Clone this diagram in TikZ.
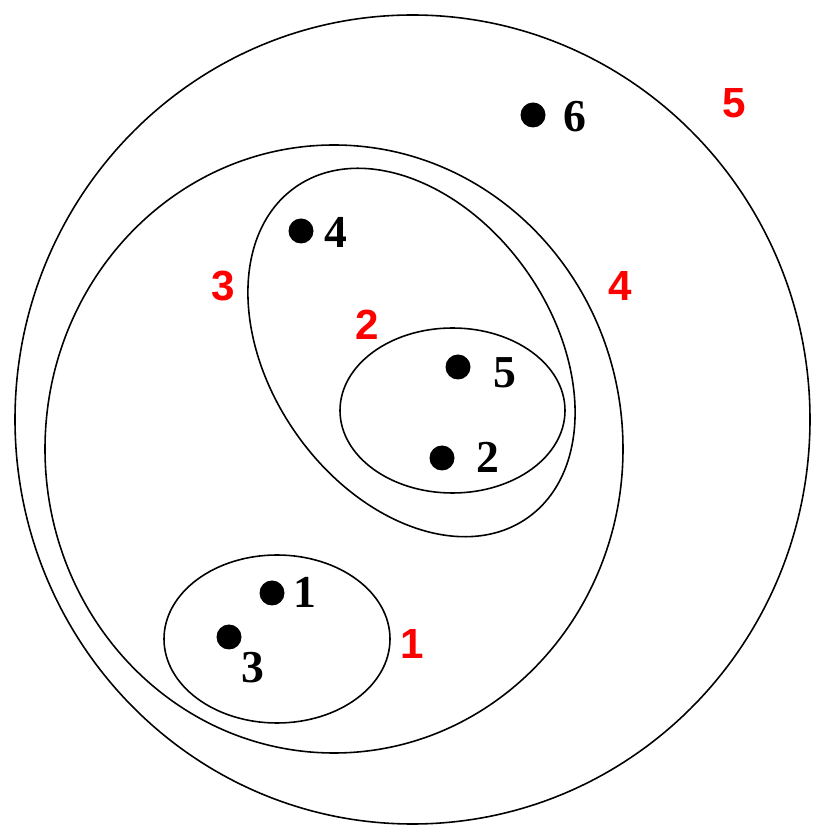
\documentclass[tikz,border=0pt]{standalone}
\usepackage{fontspec}
\usepackage{tikz}
\usetikzlibrary{shapes,positioning}
\newfontfamily\numfont{Liberation Serif}
\newfontfamily\setfont{Liberation Sans}

\tikzset{
  dot/.style={circle,fill=black,inner sep=0pt,minimum size=0.25cm},
  num/.style={font=\numfont\bfseries\fontsize{13}{15}\selectfont,inner sep=0pt},
  setnum/.style={font=\setfont\bfseries\fontsize{12}{14}\selectfont,text=red,inner sep=0pt},
  ring/.style={draw=black,line width=0.45pt}
}

\begin{document}
\begin{tikzpicture}
\useasboundingbox (0,0) rectangle (8.23,8.31);
% nested sets
\draw[ring] (4.125,4.115) ellipse (3.975 and 4.045);
\draw[ring] (3.34,3.82) ellipse (2.89 and 3.04);
\draw[ring,rotate around={-55:(4.115,4.785)}] (4.115,4.785) ellipse (2.02 and 1.41);
\draw[ring] (4.525,4.205) ellipse (1.125 and 0.825);
\draw[ring] (2.77,1.92) ellipse (1.13 and 0.84);

% points
\node[dot] (p6) at (5.33,7.16) {};
\node[dot] (p4) at (3.01,6.00) {};
\node[dot] (p5) at (4.58,4.64) {};
\node[dot] (p2) at (4.42,3.73) {};
\node[dot] (p1) at (2.72,2.38) {};
\node[dot] (p3) at (2.29,1.94) {};
\node[num] (n6) at (5.75,7.14) {6};
\node[num] (n4) at (3.36,5.99) {4};
\node[num] (n5) at (5.05,4.58) {5};
\node[num] (n2) at (4.88,3.74) {2};
\node[num] (n1) at (3.05,2.39) {1};
\node[num] (n3) at (2.53,1.63) {3};

% set labels
\node[setnum] (s5) at (7.34,7.28) {5};
\node[setnum] (s4) at (6.20,5.45) {4};
\node[setnum] (s3) at (2.23,5.45) {3};
\node[setnum] (s2) at (3.67,5.06) {2};
\node[setnum] (s1) at (4.12,1.87) {1};
\end{tikzpicture}
\end{document}
